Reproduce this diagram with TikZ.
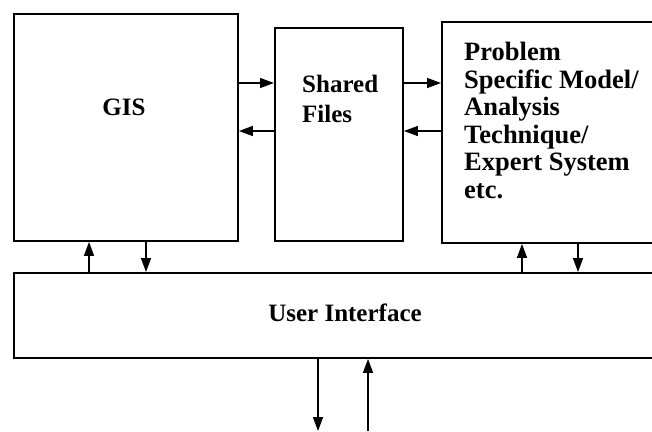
\documentclass[tikz,border=0pt]{standalone}
\usepackage{fontspec}
\setmainfont{Liberation Serif}
\usetikzlibrary{arrows.meta}
\begin{document}
\begin{tikzpicture}[x=1pt,y=-1pt,
  box/.style={draw, line width=1.9pt, rectangle, inner sep=0pt, anchor=north west},
  flow/.style={line width=1.5pt, -{Triangle[length=14pt,width=10pt]}},
  lbl/.style={font=\bfseries\fontsize{25}{27}\selectfont, inner sep=0pt},
  lblbig/.style={font=\bfseries\fontsize{26.5}{27.5}\selectfont, inner sep=0pt}]
\useasboundingbox (0,0) rectangle (652,431);
\clip (0,0) rectangle (652,431);

% component boxes (the two right-hand ones run past the edge)
\node[box, minimum width=224pt, minimum height=227pt] (gis) at (13,13) {};
\node[box, minimum width=128pt, minimum height=213pt] (shared) at (274,27) {};
\node[box, minimum width=240pt, minimum height=221pt] (prob) at (441,21) {};
\node[box, minimum width=660pt, minimum height=85pt] (ui) at (13,272) {};

% box texts
\node[lbl] (gistext) at (124,107) {GIS};
\node[lbl, align=left, anchor=north west] (sharedtext) at (302,75) {Shared\\[3pt]Files};
\node[lblbig, align=left, anchor=north west] (probtext) at (464,42)
  {Problem\\Specific Model/\\Analysis\\Technique/\\Expert System\\etc.};
\node[lbl] (uitext) at (345,313) {User Interface};

% reference positions for the connectors
\coordinate (ya) at (0,83);
\coordinate (yb) at (0,131);
\coordinate (x1) at (89,0);
\coordinate (x2) at (146,0);
\coordinate (x3) at (522,0);
\coordinate (x4) at (578,0);
\coordinate (x5) at (318,0);
\coordinate (x6) at (368,0);
\coordinate (bot) at (0,431);

% horizontal exchanges
\draw[flow] (gis.east |- ya) -- (shared.west |- ya);
\draw[flow] (shared.west |- yb) -- (gis.east |- yb);
\draw[flow] (shared.east |- ya) -- (prob.west |- ya);
\draw[flow] (prob.west |- yb) -- (shared.east |- yb);

% links to the user interface
\draw[flow] (ui.north -| x1) -- (gis.south -| x1);
\draw[flow] (gis.south -| x2) -- (ui.north -| x2);
\draw[flow] (ui.north -| x3) -- (prob.south -| x3);
\draw[flow] (prob.south -| x4) -- (ui.north -| x4);

% links to the user
\draw[flow] (ui.south -| x5) -- (bot -| x5);
\draw[flow] (bot -| x6) -- (ui.south -| x6);
\end{tikzpicture}
\end{document}
